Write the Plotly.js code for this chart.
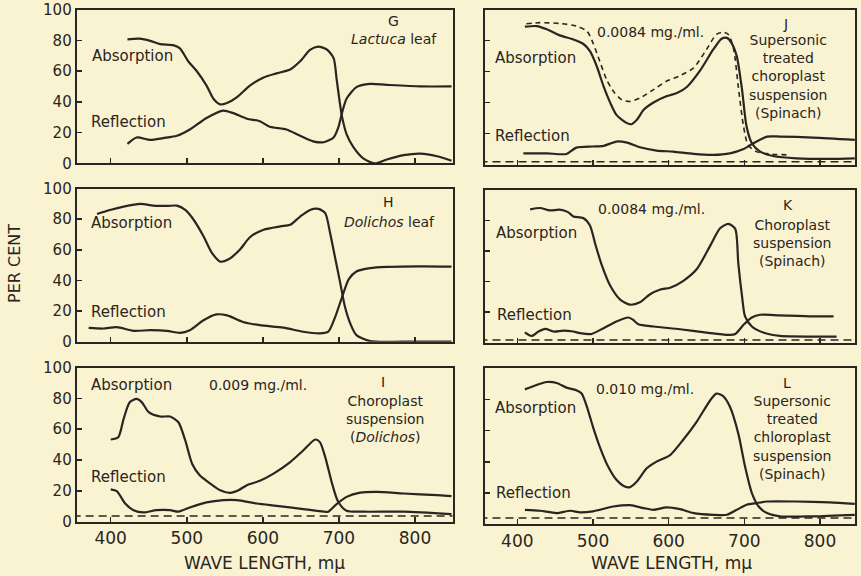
<!DOCTYPE html>
<html>
<head>
<meta charset="utf-8">
<script src="https://cdn.plot.ly/plotly-3.0.1.min.js"></script>
<style>html,body{margin:0;padding:0;background:rgb(250,243,210);}</style>
</head>
<body>
<div id="chart" style="width:861px;height:576px;"></div>
<script>
// ---- Data (wavelength in mμ, value in per cent) ----
const xTicks = [400, 500, 600, 700, 800];
const yTicksLeft = [0, 20, 40, 60, 80, 100];
const yTicksRight = [20, 40, 60, 80];

// G – Lactuca leaf
const G_abs_x = [422,438,452,465,482,491,502,513,526,535,544,552,566,583,601,618,636,649,662,673,684,693,697,701,704,710,719,732,747,763,785,807,829,848];
const G_abs_y = [80.6,81,79.6,77.5,76.8,74.7,66.3,60,50.5,42,38.3,39,43,50.5,55.8,58.5,61,66.3,73.7,75.8,74,68.4,54.7,40,30.5,19,10.5,3.2,0,2.5,5.3,6.3,4.6,1.7];
const G_ref_x = [422,434,452,469,487,504,526,548,561,579,596,609,631,649,666,680,693,699,704,710,723,741,763,807,848];
const G_ref_y = [12.6,16.8,15.2,16.4,17.9,22,29.5,34.3,32.6,29,27.4,23.8,22,17.9,14.3,13.7,16.8,23,32.6,42,49.5,51.6,51,50,50];

// H – Dolichos leaf
const H_abs_x = [382,399,417,439,456,474,487,498,509,522,533,544,555,570,583,601,623,636,649,662,673,682,688,695,702,708,715,723,741,785,848];
const H_abs_y = [83.4,86,88.2,89.9,88.8,88.6,88.8,86,79.6,68.8,58,52.3,53.8,60.2,68.2,73.1,75.3,76.3,81.7,86,86.7,83.9,72,54.8,37.6,22.6,11.8,4.3,0.4,0,0];
const H_ref_x = [371,390,408,430,452,474,491,504,522,539,553,574,596,627,653,675,686,695,704,713,723,741,763,807,848];
const H_ref_y = [9,8.6,9.5,7.1,7.5,7.1,5.8,7.5,14,17.8,17.2,12.9,10.8,9.2,6.5,5.4,6.5,16,29,40.9,45.8,48,48.8,49.2,49];

// I – Choroplast suspension (Dolichos)
const I_abs_x = [400,410,417,425,434,441,450,465,478,489,498,507,517,531,544,557,568,579,596,614,636,653,669,675,682,691,699,710,732,785,848];
const I_abs_y = [53.3,54.8,66.7,77.4,79.6,77.4,71,68.2,68.2,64.5,52.7,37.6,30.1,24.7,20.4,18.7,20.4,23.7,26.5,31.2,38.7,46.2,53.3,51.6,41.9,24.7,12.9,7.1,6.5,6.5,4.9];
const I_ref_x = [400,408,419,430,443,460,478,489,504,526,548,566,592,618,653,680,686,697,710,728,750,785,829,848];
const I_ref_y = [21,19.8,11.8,7.5,6,7.5,7.5,6.5,9.2,12.5,14,14,11.8,10.3,8.2,6.5,6.5,11.4,16.1,18.9,19.4,18.3,17.2,16.6];

// J – Supersonic treated choroplast suspension (Spinach)
const J_abs_x = [410,426,439,456,474,487,496,505,514,523,531,545,551,558,567,580,597,611,624,641,659,670,677,683,690,697,703,710,721,738,769,813,846];
const J_abs_y = [88.9,89.3,87.2,83.3,80.7,77.9,73.1,63.4,50.4,39.6,32,26.7,26,28.8,35.3,40,44,46.1,50,60.2,74.2,81.1,81.7,78.5,69.9,48.3,24.5,13.7,8.3,5.5,4,3.6,4];
const J_dash_x = [412,430,456,478,492,500,509,518,527,538,549,562,580,597,615,633,650,663,672,679,686,692,699,705,716,734,756];
const J_dash_y = [90.8,91.5,91,89.3,86,78.5,66.6,54.8,47.2,41.8,40.7,42.9,48.3,53.7,57.3,62.3,74.2,83.9,85.4,83.9,74.2,50.4,24.5,12.6,8.3,6.8,6.2];
const J_ref_x = [408,439,465,478,500,514,531,545,562,584,606,633,659,681,699,712,730,747,791,846];
const J_ref_y = [7.2,7.2,6.8,10.9,11.6,12,14.8,14.1,11.1,9,8.3,6.8,6.2,7.2,10,13.7,18,18,17.4,15.9];

// K – Choroplast suspension (Spinach)
const K_abs_x = [417,430,443,456,467,474,487,496,503,512,523,536,549,562,575,589,602,619,637,655,668,679,688,692,697,701,710,725,747,791,822];
const K_abs_y = [87.3,88.2,86.6,87.1,85.5,82.7,81.6,76.7,64.6,50.2,37,28.1,24.8,26.4,31.5,34.8,35.9,40.3,48,63.5,74.9,77.8,74.5,52.4,30.4,17.1,10.5,6.5,4.3,3.9,3.9];
const K_ref_x = [410,419,428,437,448,461,474,483,498,514,531,547,553,560,580,615,650,679,688,699,710,721,747,791,818];
const K_ref_y = [6.7,4.3,7.2,8.9,7.2,7.8,7.2,6.1,5.6,9.4,13.8,16.4,14.9,12,10.5,8.7,6.5,5,5.6,11.6,16.4,18.2,17.8,17.1,17.1];

// L – Supersonic treated chloroplast suspension (Spinach)
const L_abs_x = [410,421,439,452,465,478,485,492,500,509,520,531,542,549,558,571,584,602,619,637,655,663,672,681,692,701,710,719,730,747,791,846];
const L_abs_y = [86.5,88.5,91.2,90.6,87.6,85.9,83.8,75.3,62.5,49.7,37,28.5,24.2,23.8,27.4,35.9,40.2,44.4,54,65.7,79.5,83.8,82.1,75.3,58.3,37,20,11.4,7.2,5.1,5.1,6.1];
const L_ref_x = [410,430,452,470,483,500,527,549,567,580,597,615,633,659,677,690,703,716,730,769,813,846];
const L_ref_y = [9.3,8.7,7.2,8.7,7.6,8.3,11.4,12.3,10.4,9.3,10.8,9.7,7.2,6.1,6.1,9.3,12.5,13.6,14.6,14.6,14,13.1];

// dashed base lines
const base_x = [350, 855];
const I_base = [3.7, 3.7];
const J_base = [1.8, 1.8];
const K_base = [1.7, 1.7];
const L_base = [4.0, 4.0];

// ---- Styling ----
const INK = '#2a2520';
const BG = 'rgb(250,243,210)';
const FONT = 'DejaVu Sans';
const W = 861, H = 576;
const px = v => v / W;
const py = v => 1 - v / H;

function curve(x, y, ax, dash, width) {
  return {x: x, y: y, xaxis: 'x' + ax, yaxis: 'y' + ax, type: 'scatter', mode: 'lines',
    line: {color: INK, width: width || 2.2, shape: 'spline', smoothing: 0.7, dash: dash || 'solid'},
    hoverinfo: 'skip', showlegend: false};
}

const traces = [
  curve(G_abs_x, G_abs_y, ''), curve(G_ref_x, G_ref_y, ''),
  curve(J_abs_x, J_abs_y, '2'), curve(J_dash_x, J_dash_y, '2', '5px,4px', 1.6), curve(J_ref_x, J_ref_y, '2'),
  curve(base_x, J_base, '2', '8px,5px', 1.5),
  curve(H_abs_x, H_abs_y, '3'), curve(H_ref_x, H_ref_y, '3'),
  curve(K_abs_x, K_abs_y, '4'), curve(K_ref_x, K_ref_y, '4'), curve(base_x, K_base, '4', '8px,5px', 1.5),
  curve(I_abs_x, I_abs_y, '5'), curve(I_ref_x, I_ref_y, '5'), curve(base_x, I_base, '5', '8px,5px', 1.5),
  curve(L_abs_x, L_abs_y, '6'), curve(L_ref_x, L_ref_y, '6'), curve(base_x, L_base, '6', '8px,5px', 1.5)
];

const leftDom = [px(76.7), px(452.5)];
const rightDom = [px(485), px(855)];
const leftRange = [355.3, 849.3];
const rightRange = [357.3, 846.3];

function xax(dom, rng, anchor, labels) {
  return {domain: dom, range: rng, anchor: anchor, tickvals: xTicks, ticks: 'inside', ticklen: 5,
    tickwidth: 1.5, tickcolor: INK, showline: true, linecolor: INK, linewidth: 2, mirror: true,
    showgrid: false, zeroline: false, showticklabels: labels, ticklabeloverflow: 'allow',
    tickfont: {family: FONT, size: 17, color: INK}};
}
function yax(bot, top, anchor, left) {
  return {domain: [py(bot), py(top)], range: [0, 100], anchor: anchor,
    tickvals: left ? yTicksLeft : yTicksRight, ticks: 'inside', ticklen: 5, tickwidth: 1.5,
    tickcolor: INK, showline: true, linecolor: INK, linewidth: 2, mirror: true,
    showgrid: false, zeroline: false, showticklabels: left, ticklabeloverflow: 'allow',
    tickfont: {family: FONT, size: 15, color: INK}};
}

function ann(text, x, y, size, extra) {
  return Object.assign({text: text, x: px(x), y: py(y), xref: 'paper', yref: 'paper',
    xanchor: 'center', yanchor: 'middle', showarrow: false,
    font: {family: FONT, size: size || 14, color: INK}}, extra || {});
}

const annotations = [
  // G
  ann('Absorption', 132, 56, 15), ann('Reflection', 128, 122, 15),
  ann('G', 393, 21, 14), ann('<i>Lactuca</i> leaf', 394, 39, 14),
  // H
  ann('Absorption', 131, 223, 15), ann('Reflection', 128, 312, 15),
  ann('H', 388, 202, 14), ann('<i>Dolichos</i> leaf', 389, 222, 14),
  // I
  ann('Absorption', 131, 385, 15), ann('0.009 mg./ml.', 258, 385, 14),
  ann('I', 383, 382, 14), ann('Choroplast<br>suspension<br>(<i>Dolichos</i>)', 385, 419, 14),
  ann('Reflection', 128, 477, 15),
  // J
  ann('Absorption', 535, 58, 15), ann('Reflection', 532, 136, 15),
  ann('0.0084 mg./ml.', 650, 32, 14), ann('J', 785, 24, 14),
  ann('Supersonic<br>treated<br>choroplast<br>suspension<br>(Spinach)', 788, 76.5, 14),
  // K
  ann('Absorption', 536, 233, 15), ann('Reflection', 534, 315, 15),
  ann('0.0084 mg./ml.', 651, 209, 14), ann('K', 788, 205, 14),
  ann('Choroplast<br>suspension<br>(Spinach)', 792, 242.5, 14),
  // L
  ann('Absorption', 535, 408, 15), ann('Reflection', 533, 493, 15),
  ann('0.010 mg./ml.', 645, 389, 14), ann('L', 787, 383, 14),
  ann('Supersonic<br>treated<br>chloroplast<br>suspension<br>(Spinach)', 792, 437, 14),
  // axis titles
  ann('PER CENT', 15, 264, 16, {textangle: -90}),
  ann('WAVE LENGTH, mμ', 264, 563, 17),
  ann('WAVE LENGTH, mμ', 671, 563, 17)
];

const layout = {
  width: W, height: H, margin: {l: 0, r: 0, t: 0, b: 0},
  paper_bgcolor: BG, plot_bgcolor: BG, showlegend: false,
  font: {family: FONT, color: INK},
  xaxis: xax(leftDom, leftRange, 'y', false),   yaxis: yax(163.3, 9.5, 'x', true),
  xaxis2: xax(rightDom, rightRange, 'y2', false), yaxis2: yax(164.5, 9.5, 'x2', false),
  xaxis3: xax(leftDom, leftRange, 'y3', false),   yaxis3: yax(341.7, 188.5, 'x3', true),
  xaxis4: xax(rightDom, rightRange, 'y4', false), yaxis4: yax(342.5, 190, 'x4', false),
  xaxis5: xax(leftDom, leftRange, 'y5', true),    yaxis5: yax(521.7, 367.5, 'x5', true),
  xaxis6: xax(rightDom, rightRange, 'y6', true),  yaxis6: yax(524.3, 368.3, 'x6', false),
  annotations: annotations
};

Plotly.newPlot('chart', traces, layout, {staticPlot: true, displayModeBar: false});
</script>
</body>
</html>
